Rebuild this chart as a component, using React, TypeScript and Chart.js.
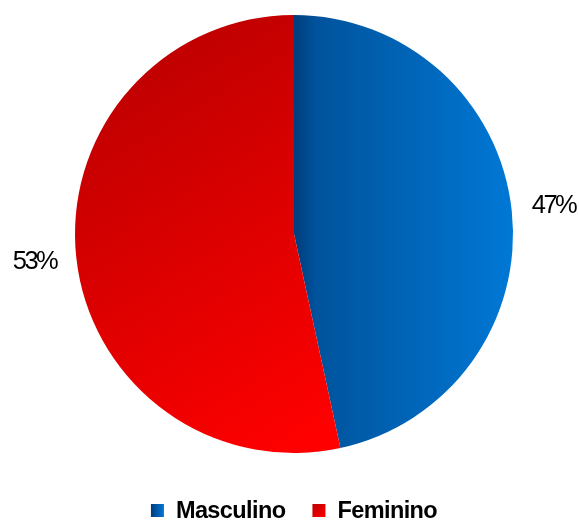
import React, { useEffect, useRef } from "react";
import Chart from "chart.js/auto";

const categories = ["Masculino", "Feminino"];
const values = [46.6, 53.4];

const FONT = '"Liberation Sans", Arial, sans-serif';

function areaInfo(chart: any) {
  const a = chart.chartArea;
  const cx = (a.left + a.right) / 2;
  const cy = (a.top + a.bottom) / 2;
  const r = Math.min(a.right - a.left, a.bottom - a.top) / 2;
  return { cx, cy, r };
}

function sliceFill(chart: any, index: number) {
  const c = chart.ctx as CanvasRenderingContext2D;
  if (!chart.chartArea) return index === 0 ? "#0060b0" : "#e00000";
  const { cx, cy, r } = areaInfo(chart);
  if (index === 0) {
    const g = c.createLinearGradient(cx, 0, cx + r, 0);
    g.addColorStop(0, "#003d7c");
    g.addColorStop(0.1, "#00539c");
    g.addColorStop(1, "#0078d6");
    return g;
  }
  const g = c.createLinearGradient(cx - 0.88 * r, cy - 0.8 * r, cx + 0.17 * r, cy + 0.9 * r);
  g.addColorStop(0, "#bc0000");
  g.addColorStop(1, "#ff0000");
  return g;
}

const labelPlugin = {
  id: "outerLabels",
  afterDatasetsDraw(chart: any) {
    const c = chart.ctx as CanvasRenderingContext2D;
    const meta = chart.getDatasetMeta(0);
    const total = values.reduce((s, v) => s + v, 0);
    c.save();
    c.font = `25.5px ${FONT}`;
    (c as any).letterSpacing = "-2.5px";
    c.fillStyle = "#000";
    c.textAlign = "center";
    c.textBaseline = "middle";
    meta.data.forEach((arc: any, i: number) => {
      const mid = (arc.startAngle + arc.endAngle) / 2;
      const d = arc.outerRadius + 42;
      const txt = Math.round((values[i] / total) * 100) + "%";
      c.fillText(txt, arc.x + Math.cos(mid) * d, arc.y + Math.sin(mid) * d);
    });
    c.restore();
  },
};

const legendPlugin = {
  id: "bottomLegend",
  afterDraw(chart: any) {
    const c = chart.ctx as CanvasRenderingContext2D;
    const { cx } = areaInfo(chart);
    c.save();
    c.font = `bold 23.5px ${FONT}`;
    (c as any).letterSpacing = "-0.6px";
    const box = 13;
    const gap = 12;
    const itemGap = 27;
    const widths = categories.map((t) => c.measureText(t).width);
    const total = widths.reduce((s, w) => s + box + gap + w, 0) + itemGap * (categories.length - 1);
    let x = cx - total / 2;
    const baseline = chart.height - 2;
    const boxTop = baseline - 14;
    categories.forEach((t, i) => {
      let g;
      if (i === 0) {
        g = c.createLinearGradient(x, 0, x + box, 0);
        g.addColorStop(0, "#003d7c");
        g.addColorStop(1, "#0078d6");
      } else {
        g = c.createLinearGradient(x, boxTop, x + box, boxTop + box);
        g.addColorStop(0, "#bc0000");
        g.addColorStop(1, "#ff0000");
      }
      c.fillStyle = g;
      c.fillRect(x, boxTop, box, box);
      x += box + gap;
      c.fillStyle = "#000";
      c.textAlign = "left";
      c.textBaseline = "alphabetic";
      c.fillText(t, x, baseline);
      x += widths[i] + itemGap;
    });
    c.restore();
  },
};

export default function App() {
  const ref = useRef<HTMLCanvasElement>(null);
  useEffect(() => {
    const canvas = ref.current!;
    const chart = new Chart(canvas, {
      type: "pie",
      data: {
        labels: categories,
        datasets: [
          {
            data: values,
            borderWidth: 0,
            backgroundColor: (ctx: any) => sliceFill(ctx.chart, ctx.dataIndex),
          },
        ],
      },
      options: {
        responsive: false,
        animation: false,
        devicePixelRatio: 1,
        layout: { padding: { left: 75, top: 15, right: 66, bottom: 67 } },
        plugins: {
          legend: { display: false },
          tooltip: { enabled: false },
        },
      },
      plugins: [labelPlugin, legendPlugin],
    });
    return () => chart.destroy();
  }, []);
  return (
    <div style={{ position: "fixed", left: 0, top: 0, width: 579, height: 520, background: "#fff" }}>
      <canvas ref={ref} width={579} height={520} style={{ display: "block" }} />
    </div>
  );
}
